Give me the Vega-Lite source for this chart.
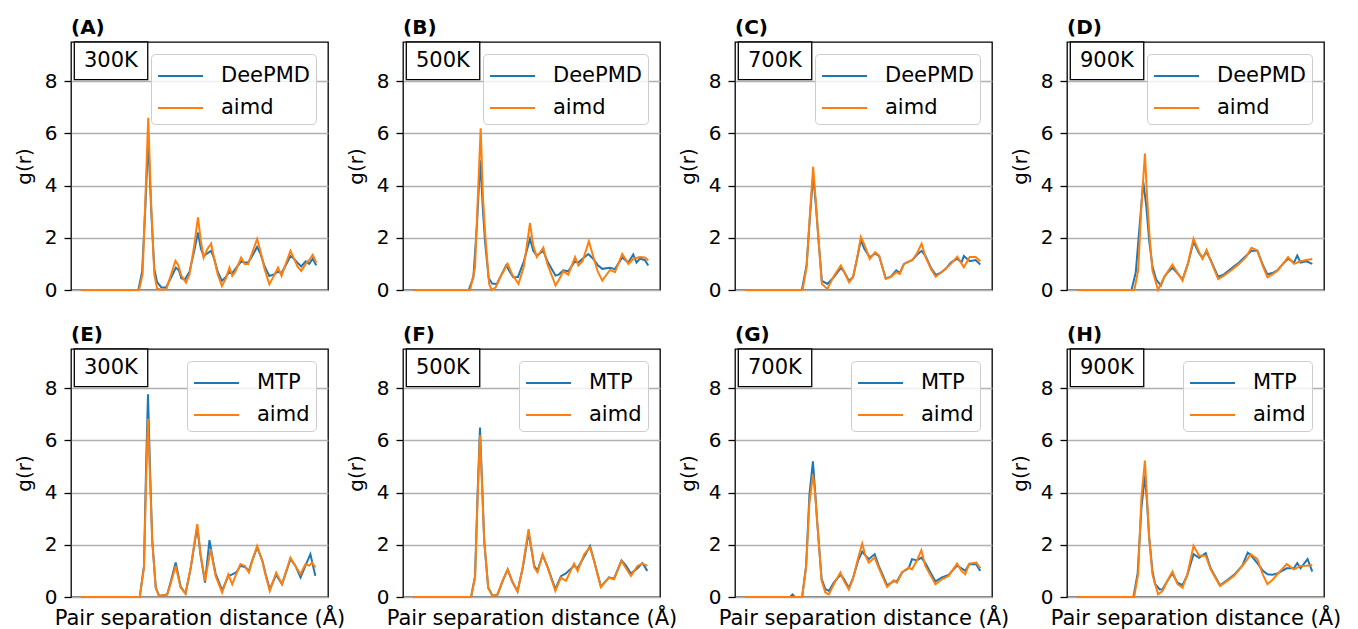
{
"$schema": "https://vega.github.io/schema/vega-lite/v6.json",
"padding": {"left": 13, "top": 17, "right": 5, "bottom": 0},
"background": "white",
"config": {
  "font": "DejaVu Sans",
  "view": {"stroke": "black", "strokeWidth": 1.3},
  "title": {"anchor": "start", "frame": "group", "fontSize": 20, "fontWeight": "bold", "offset": 3, "color": "black"},
  "axisY": {"grid": true, "gridColor": "#b0b0b0", "gridWidth": 1.3, "tickColor": "black", "tickSize": 7, "tickWidth": 1.3, "labelFontSize": 20, "labelColor": "black", "labelPadding": 7, "titleFontSize": 20, "titleFontWeight": "normal", "titleColor": "black", "titlePadding": 10, "domain": false},
  "axisX": {"labels": false, "ticks": false, "domain": false, "grid": false, "titleFontSize": 21, "titleFontWeight": "normal", "titleColor": "black", "titlePadding": 10},
  "legend": {"title": null, "orient": "top-right", "offset": 12, "padding": 6, "strokeColor": "#cccccc", "fillColor": "rgba(255,255,255,0.8)", "cornerRadius": 4, "symbolType": "M-1,0H2", "symbolSize": 900, "symbolStrokeWidth": 2, "labelFontSize": 21, "labelOffset": 32, "rowPadding": 6, "labelColor": "black"}
},
"datasets": {
"panels": [
{"p":"A","temp":"300K"},{"p":"B","temp":"500K"},{"p":"C","temp":"700K"},{"p":"D","temp":"900K"},
{"p":"E","temp":"300K"},{"p":"F","temp":"500K"},{"p":"G","temp":"700K"},{"p":"H","temp":"900K"}
],
"gr": [
{"p":"A","s":"aimd","r":0,"g":0},{"p":"A","s":"aimd","r":2.45,"g":0},{"p":"A","s":"aimd","r":2.6,"g":0.6},{"p":"A","s":"aimd","r":2.72,"g":3.5},{"p":"A","s":"aimd","r":2.84,"g":6.6},{"p":"A","s":"aimd","r":2.97,"g":3.2},{"p":"A","s":"aimd","r":3.1,"g":0.6},{"p":"A","s":"aimd","r":3.22,"g":0.05},{"p":"A","s":"aimd","r":3.45,"g":0},{"p":"A","s":"aimd","r":3.62,"g":0.05},{"p":"A","s":"aimd","r":3.8,"g":0.55},{"p":"A","s":"aimd","r":4.0,"g":1.12},{"p":"A","s":"aimd","r":4.12,"g":0.95},{"p":"A","s":"aimd","r":4.25,"g":0.55},{"p":"A","s":"aimd","r":4.45,"g":0.28},{"p":"A","s":"aimd","r":4.6,"g":0.6},{"p":"A","s":"aimd","r":4.8,"g":1.7},{"p":"A","s":"aimd","r":4.96,"g":2.78},{"p":"A","s":"aimd","r":5.08,"g":1.9},{"p":"A","s":"aimd","r":5.2,"g":1.24},{"p":"A","s":"aimd","r":5.35,"g":1.55},{"p":"A","s":"aimd","r":5.52,"g":1.78},{"p":"A","s":"aimd","r":5.65,"g":1.2},{"p":"A","s":"aimd","r":5.8,"g":0.6},{"p":"A","s":"aimd","r":5.98,"g":0.15},{"p":"A","s":"aimd","r":6.15,"g":0.45},{"p":"A","s":"aimd","r":6.3,"g":0.86},{"p":"A","s":"aimd","r":6.42,"g":0.54},{"p":"A","s":"aimd","r":6.55,"g":0.7},{"p":"A","s":"aimd","r":6.8,"g":1.24},{"p":"A","s":"aimd","r":6.95,"g":1.0},{"p":"A","s":"aimd","r":7.1,"g":1.0},{"p":"A","s":"aimd","r":7.3,"g":1.5},{"p":"A","s":"aimd","r":7.48,"g":1.95},{"p":"A","s":"aimd","r":7.62,"g":1.5},{"p":"A","s":"aimd","r":7.8,"g":0.8},{"p":"A","s":"aimd","r":8.0,"g":0.22},{"p":"A","s":"aimd","r":8.2,"g":0.55},{"p":"A","s":"aimd","r":8.37,"g":0.86},{"p":"A","s":"aimd","r":8.52,"g":0.54},{"p":"A","s":"aimd","r":8.7,"g":1.0},{"p":"A","s":"aimd","r":8.9,"g":1.5},{"p":"A","s":"aimd","r":9.05,"g":1.2},{"p":"A","s":"aimd","r":9.2,"g":0.9},{"p":"A","s":"aimd","r":9.36,"g":0.73},{"p":"A","s":"aimd","r":9.55,"g":1.0},{"p":"A","s":"aimd","r":9.7,"g":1.15},{"p":"A","s":"aimd","r":9.85,"g":1.35},{"p":"A","s":"aimd","r":10,"g":1.05},
{"p":"A","s":"DeePMD","r":0,"g":0},{"p":"A","s":"DeePMD","r":2.42,"g":0},{"p":"A","s":"DeePMD","r":2.58,"g":0.7},{"p":"A","s":"DeePMD","r":2.72,"g":3.2},{"p":"A","s":"DeePMD","r":2.84,"g":5.8},{"p":"A","s":"DeePMD","r":2.97,"g":3.0},{"p":"A","s":"DeePMD","r":3.1,"g":0.8},{"p":"A","s":"DeePMD","r":3.22,"g":0.3},{"p":"A","s":"DeePMD","r":3.4,"g":0.1},{"p":"A","s":"DeePMD","r":3.6,"g":0.1},{"p":"A","s":"DeePMD","r":3.8,"g":0.45},{"p":"A","s":"DeePMD","r":4.02,"g":0.86},{"p":"A","s":"DeePMD","r":4.15,"g":0.75},{"p":"A","s":"DeePMD","r":4.25,"g":0.45},{"p":"A","s":"DeePMD","r":4.4,"g":0.4},{"p":"A","s":"DeePMD","r":4.6,"g":0.7},{"p":"A","s":"DeePMD","r":4.8,"g":1.5},{"p":"A","s":"DeePMD","r":4.96,"g":2.2},{"p":"A","s":"DeePMD","r":5.08,"g":1.6},{"p":"A","s":"DeePMD","r":5.2,"g":1.3},{"p":"A","s":"DeePMD","r":5.35,"g":1.4},{"p":"A","s":"DeePMD","r":5.52,"g":1.5},{"p":"A","s":"DeePMD","r":5.65,"g":1.2},{"p":"A","s":"DeePMD","r":5.8,"g":0.7},{"p":"A","s":"DeePMD","r":5.98,"g":0.35},{"p":"A","s":"DeePMD","r":6.15,"g":0.5},{"p":"A","s":"DeePMD","r":6.3,"g":0.7},{"p":"A","s":"DeePMD","r":6.42,"g":0.65},{"p":"A","s":"DeePMD","r":6.55,"g":0.8},{"p":"A","s":"DeePMD","r":6.8,"g":1.1},{"p":"A","s":"DeePMD","r":6.95,"g":1.05},{"p":"A","s":"DeePMD","r":7.1,"g":1.05},{"p":"A","s":"DeePMD","r":7.3,"g":1.35},{"p":"A","s":"DeePMD","r":7.48,"g":1.65},{"p":"A","s":"DeePMD","r":7.62,"g":1.4},{"p":"A","s":"DeePMD","r":7.8,"g":0.9},{"p":"A","s":"DeePMD","r":8.0,"g":0.54},{"p":"A","s":"DeePMD","r":8.2,"g":0.6},{"p":"A","s":"DeePMD","r":8.37,"g":0.7},{"p":"A","s":"DeePMD","r":8.52,"g":0.65},{"p":"A","s":"DeePMD","r":8.7,"g":0.95},{"p":"A","s":"DeePMD","r":8.9,"g":1.3},{"p":"A","s":"DeePMD","r":9.05,"g":1.2},{"p":"A","s":"DeePMD","r":9.2,"g":1.05},{"p":"A","s":"DeePMD","r":9.36,"g":0.9},{"p":"A","s":"DeePMD","r":9.55,"g":1.1},{"p":"A","s":"DeePMD","r":9.7,"g":1.0},{"p":"A","s":"DeePMD","r":9.85,"g":1.2},{"p":"A","s":"DeePMD","r":10,"g":0.95},
{"p":"B","s":"aimd","r":0,"g":0},{"p":"B","s":"aimd","r":2.41,"g":0},{"p":"B","s":"aimd","r":2.62,"g":0.87},{"p":"B","s":"aimd","r":2.75,"g":3.8},{"p":"B","s":"aimd","r":2.86,"g":6.19},{"p":"B","s":"aimd","r":2.96,"g":3.5},{"p":"B","s":"aimd","r":3.05,"g":2.17},{"p":"B","s":"aimd","r":3.22,"g":0.23},{"p":"B","s":"aimd","r":3.33,"g":0},{"p":"B","s":"aimd","r":3.5,"g":0.1},{"p":"B","s":"aimd","r":3.69,"g":0.49},{"p":"B","s":"aimd","r":4.01,"g":1.0},{"p":"B","s":"aimd","r":4.2,"g":0.6},{"p":"B","s":"aimd","r":4.47,"g":0.23},{"p":"B","s":"aimd","r":4.7,"g":0.9},{"p":"B","s":"aimd","r":4.96,"g":2.56},{"p":"B","s":"aimd","r":5.1,"g":1.7},{"p":"B","s":"aimd","r":5.25,"g":1.26},{"p":"B","s":"aimd","r":5.53,"g":1.62},{"p":"B","s":"aimd","r":5.7,"g":1.0},{"p":"B","s":"aimd","r":6.05,"g":0.17},{"p":"B","s":"aimd","r":6.2,"g":0.4},{"p":"B","s":"aimd","r":6.38,"g":0.72},{"p":"B","s":"aimd","r":6.59,"g":0.59},{"p":"B","s":"aimd","r":6.88,"g":1.26},{"p":"B","s":"aimd","r":7.02,"g":0.94},{"p":"B","s":"aimd","r":7.2,"g":1.1},{"p":"B","s":"aimd","r":7.47,"g":1.87},{"p":"B","s":"aimd","r":7.65,"g":1.3},{"p":"B","s":"aimd","r":7.85,"g":0.7},{"p":"B","s":"aimd","r":8.04,"g":0.36},{"p":"B","s":"aimd","r":8.37,"g":0.77},{"p":"B","s":"aimd","r":8.58,"g":0.68},{"p":"B","s":"aimd","r":8.89,"g":1.38},{"p":"B","s":"aimd","r":9.15,"g":1.0},{"p":"B","s":"aimd","r":9.36,"g":1.19},{"p":"B","s":"aimd","r":9.64,"g":1.26},{"p":"B","s":"aimd","r":9.85,"g":1.25},{"p":"B","s":"aimd","r":10,"g":1.13},
{"p":"B","s":"DeePMD","r":0,"g":0},{"p":"B","s":"DeePMD","r":2.35,"g":0},{"p":"B","s":"DeePMD","r":2.55,"g":0.49},{"p":"B","s":"DeePMD","r":2.7,"g":2.5},{"p":"B","s":"DeePMD","r":2.84,"g":4.97},{"p":"B","s":"DeePMD","r":2.96,"g":3.0},{"p":"B","s":"DeePMD","r":3.05,"g":1.8},{"p":"B","s":"DeePMD","r":3.2,"g":0.45},{"p":"B","s":"DeePMD","r":3.35,"g":0.25},{"p":"B","s":"DeePMD","r":3.55,"g":0.23},{"p":"B","s":"DeePMD","r":3.75,"g":0.6},{"p":"B","s":"DeePMD","r":3.95,"g":0.95},{"p":"B","s":"DeePMD","r":4.1,"g":0.7},{"p":"B","s":"DeePMD","r":4.25,"g":0.49},{"p":"B","s":"DeePMD","r":4.45,"g":0.5},{"p":"B","s":"DeePMD","r":4.7,"g":1.1},{"p":"B","s":"DeePMD","r":4.96,"g":1.96},{"p":"B","s":"DeePMD","r":5.1,"g":1.5},{"p":"B","s":"DeePMD","r":5.25,"g":1.32},{"p":"B","s":"DeePMD","r":5.53,"g":1.5},{"p":"B","s":"DeePMD","r":5.7,"g":1.1},{"p":"B","s":"DeePMD","r":6.05,"g":0.55},{"p":"B","s":"DeePMD","r":6.2,"g":0.6},{"p":"B","s":"DeePMD","r":6.38,"g":0.75},{"p":"B","s":"DeePMD","r":6.59,"g":0.72},{"p":"B","s":"DeePMD","r":6.88,"g":1.1},{"p":"B","s":"DeePMD","r":7.02,"g":1.05},{"p":"B","s":"DeePMD","r":7.2,"g":1.2},{"p":"B","s":"DeePMD","r":7.45,"g":1.38},{"p":"B","s":"DeePMD","r":7.65,"g":1.2},{"p":"B","s":"DeePMD","r":7.85,"g":0.95},{"p":"B","s":"DeePMD","r":8.04,"g":0.81},{"p":"B","s":"DeePMD","r":8.37,"g":0.85},{"p":"B","s":"DeePMD","r":8.58,"g":0.8},{"p":"B","s":"DeePMD","r":8.89,"g":1.25},{"p":"B","s":"DeePMD","r":9.15,"g":1.05},{"p":"B","s":"DeePMD","r":9.36,"g":1.36},{"p":"B","s":"DeePMD","r":9.5,"g":1.05},{"p":"B","s":"DeePMD","r":9.64,"g":1.2},{"p":"B","s":"DeePMD","r":9.85,"g":1.15},{"p":"B","s":"DeePMD","r":10,"g":0.94},
{"p":"C","s":"aimd","r":0,"g":0},{"p":"C","s":"aimd","r":2.43,"g":0},{"p":"C","s":"aimd","r":2.6,"g":0.87},{"p":"C","s":"aimd","r":2.75,"g":3.0},{"p":"C","s":"aimd","r":2.88,"g":4.72},{"p":"C","s":"aimd","r":3.0,"g":3.3},{"p":"C","s":"aimd","r":3.11,"g":1.9},{"p":"C","s":"aimd","r":3.25,"g":0.23},{"p":"C","s":"aimd","r":3.49,"g":0.04},{"p":"C","s":"aimd","r":3.77,"g":0.55},{"p":"C","s":"aimd","r":4.06,"g":0.94},{"p":"C","s":"aimd","r":4.2,"g":0.7},{"p":"C","s":"aimd","r":4.41,"g":0.29},{"p":"C","s":"aimd","r":4.58,"g":0.49},{"p":"C","s":"aimd","r":4.75,"g":1.2},{"p":"C","s":"aimd","r":4.91,"g":2.03},{"p":"C","s":"aimd","r":5.05,"g":1.77},{"p":"C","s":"aimd","r":5.29,"g":1.19},{"p":"C","s":"aimd","r":5.52,"g":1.45},{"p":"C","s":"aimd","r":5.69,"g":1.32},{"p":"C","s":"aimd","r":5.97,"g":0.42},{"p":"C","s":"aimd","r":6.18,"g":0.49},{"p":"C","s":"aimd","r":6.42,"g":0.68},{"p":"C","s":"aimd","r":6.57,"g":0.62},{"p":"C","s":"aimd","r":6.75,"g":1.0},{"p":"C","s":"aimd","r":7.11,"g":1.15},{"p":"C","s":"aimd","r":7.3,"g":1.4},{"p":"C","s":"aimd","r":7.5,"g":1.77},{"p":"C","s":"aimd","r":7.67,"g":1.26},{"p":"C","s":"aimd","r":7.9,"g":0.8},{"p":"C","s":"aimd","r":8.1,"g":0.51},{"p":"C","s":"aimd","r":8.3,"g":0.65},{"p":"C","s":"aimd","r":8.52,"g":0.81},{"p":"C","s":"aimd","r":8.75,"g":1.0},{"p":"C","s":"aimd","r":9.02,"g":1.28},{"p":"C","s":"aimd","r":9.3,"g":0.87},{"p":"C","s":"aimd","r":9.55,"g":1.26},{"p":"C","s":"aimd","r":9.8,"g":1.26},{"p":"C","s":"aimd","r":10,"g":1.1},
{"p":"C","s":"DeePMD","r":0,"g":0},{"p":"C","s":"DeePMD","r":2.4,"g":0},{"p":"C","s":"DeePMD","r":2.6,"g":0.95},{"p":"C","s":"DeePMD","r":2.75,"g":2.9},{"p":"C","s":"DeePMD","r":2.88,"g":4.4},{"p":"C","s":"DeePMD","r":3.0,"g":3.2},{"p":"C","s":"DeePMD","r":3.11,"g":1.9},{"p":"C","s":"DeePMD","r":3.25,"g":0.35},{"p":"C","s":"DeePMD","r":3.49,"g":0.23},{"p":"C","s":"DeePMD","r":3.77,"g":0.5},{"p":"C","s":"DeePMD","r":4.06,"g":0.85},{"p":"C","s":"DeePMD","r":4.2,"g":0.7},{"p":"C","s":"DeePMD","r":4.41,"g":0.35},{"p":"C","s":"DeePMD","r":4.58,"g":0.5},{"p":"C","s":"DeePMD","r":4.75,"g":1.2},{"p":"C","s":"DeePMD","r":4.91,"g":1.9},{"p":"C","s":"DeePMD","r":5.05,"g":1.6},{"p":"C","s":"DeePMD","r":5.29,"g":1.25},{"p":"C","s":"DeePMD","r":5.52,"g":1.4},{"p":"C","s":"DeePMD","r":5.69,"g":1.3},{"p":"C","s":"DeePMD","r":5.97,"g":0.45},{"p":"C","s":"DeePMD","r":6.18,"g":0.5},{"p":"C","s":"DeePMD","r":6.42,"g":0.75},{"p":"C","s":"DeePMD","r":6.57,"g":0.65},{"p":"C","s":"DeePMD","r":6.75,"g":1.0},{"p":"C","s":"DeePMD","r":7.11,"g":1.15},{"p":"C","s":"DeePMD","r":7.3,"g":1.35},{"p":"C","s":"DeePMD","r":7.5,"g":1.5},{"p":"C","s":"DeePMD","r":7.67,"g":1.3},{"p":"C","s":"DeePMD","r":7.9,"g":0.85},{"p":"C","s":"DeePMD","r":8.1,"g":0.58},{"p":"C","s":"DeePMD","r":8.3,"g":0.65},{"p":"C","s":"DeePMD","r":8.52,"g":0.8},{"p":"C","s":"DeePMD","r":8.75,"g":1.05},{"p":"C","s":"DeePMD","r":9.02,"g":1.2},{"p":"C","s":"DeePMD","r":9.2,"g":1.05},{"p":"C","s":"DeePMD","r":9.3,"g":1.3},{"p":"C","s":"DeePMD","r":9.55,"g":1.1},{"p":"C","s":"DeePMD","r":9.8,"g":1.15},{"p":"C","s":"DeePMD","r":10,"g":0.98},
{"p":"D","s":"aimd","r":0,"g":0},{"p":"D","s":"aimd","r":2.42,"g":0},{"p":"D","s":"aimd","r":2.58,"g":0.74},{"p":"D","s":"aimd","r":2.72,"g":3.2},{"p":"D","s":"aimd","r":2.87,"g":5.23},{"p":"D","s":"aimd","r":2.96,"g":3.6},{"p":"D","s":"aimd","r":3.05,"g":2.28},{"p":"D","s":"aimd","r":3.19,"g":0.74},{"p":"D","s":"aimd","r":3.43,"g":0},{"p":"D","s":"aimd","r":3.69,"g":0.49},{"p":"D","s":"aimd","r":4.04,"g":0.97},{"p":"D","s":"aimd","r":4.2,"g":0.75},{"p":"D","s":"aimd","r":4.47,"g":0.36},{"p":"D","s":"aimd","r":4.7,"g":1.0},{"p":"D","s":"aimd","r":4.94,"g":1.96},{"p":"D","s":"aimd","r":5.18,"g":1.45},{"p":"D","s":"aimd","r":5.32,"g":1.19},{"p":"D","s":"aimd","r":5.5,"g":1.54},{"p":"D","s":"aimd","r":5.67,"g":1.13},{"p":"D","s":"aimd","r":5.99,"g":0.42},{"p":"D","s":"aimd","r":6.24,"g":0.55},{"p":"D","s":"aimd","r":6.52,"g":0.74},{"p":"D","s":"aimd","r":6.88,"g":1.0},{"p":"D","s":"aimd","r":7.17,"g":1.26},{"p":"D","s":"aimd","r":7.41,"g":1.62},{"p":"D","s":"aimd","r":7.66,"g":1.51},{"p":"D","s":"aimd","r":7.9,"g":0.9},{"p":"D","s":"aimd","r":8.09,"g":0.49},{"p":"D","s":"aimd","r":8.3,"g":0.6},{"p":"D","s":"aimd","r":8.51,"g":0.74},{"p":"D","s":"aimd","r":8.75,"g":1.0},{"p":"D","s":"aimd","r":8.97,"g":1.26},{"p":"D","s":"aimd","r":9.22,"g":1.0},{"p":"D","s":"aimd","r":9.5,"g":1.1},{"p":"D","s":"aimd","r":9.75,"g":1.15},{"p":"D","s":"aimd","r":10,"g":1.19},
{"p":"D","s":"DeePMD","r":0,"g":0},{"p":"D","s":"DeePMD","r":2.3,"g":0},{"p":"D","s":"DeePMD","r":2.48,"g":0.68},{"p":"D","s":"DeePMD","r":2.62,"g":2.2},{"p":"D","s":"DeePMD","r":2.8,"g":4.14},{"p":"D","s":"DeePMD","r":2.93,"g":3.2},{"p":"D","s":"DeePMD","r":3.05,"g":1.9},{"p":"D","s":"DeePMD","r":3.19,"g":0.9},{"p":"D","s":"DeePMD","r":3.35,"g":0.4},{"p":"D","s":"DeePMD","r":3.55,"g":0.17},{"p":"D","s":"DeePMD","r":3.69,"g":0.49},{"p":"D","s":"DeePMD","r":3.85,"g":0.68},{"p":"D","s":"DeePMD","r":4.04,"g":0.85},{"p":"D","s":"DeePMD","r":4.2,"g":0.7},{"p":"D","s":"DeePMD","r":4.47,"g":0.4},{"p":"D","s":"DeePMD","r":4.7,"g":1.0},{"p":"D","s":"DeePMD","r":4.94,"g":1.85},{"p":"D","s":"DeePMD","r":5.18,"g":1.4},{"p":"D","s":"DeePMD","r":5.32,"g":1.25},{"p":"D","s":"DeePMD","r":5.5,"g":1.45},{"p":"D","s":"DeePMD","r":5.67,"g":1.15},{"p":"D","s":"DeePMD","r":5.99,"g":0.5},{"p":"D","s":"DeePMD","r":6.24,"g":0.6},{"p":"D","s":"DeePMD","r":6.52,"g":0.8},{"p":"D","s":"DeePMD","r":6.88,"g":1.05},{"p":"D","s":"DeePMD","r":7.17,"g":1.3},{"p":"D","s":"DeePMD","r":7.41,"g":1.5},{"p":"D","s":"DeePMD","r":7.66,"g":1.5},{"p":"D","s":"DeePMD","r":7.9,"g":0.95},{"p":"D","s":"DeePMD","r":8.09,"g":0.6},{"p":"D","s":"DeePMD","r":8.3,"g":0.65},{"p":"D","s":"DeePMD","r":8.51,"g":0.75},{"p":"D","s":"DeePMD","r":8.75,"g":1.0},{"p":"D","s":"DeePMD","r":8.97,"g":1.2},{"p":"D","s":"DeePMD","r":9.22,"g":1.05},{"p":"D","s":"DeePMD","r":9.36,"g":1.32},{"p":"D","s":"DeePMD","r":9.5,"g":1.05},{"p":"D","s":"DeePMD","r":9.75,"g":1.1},{"p":"D","s":"DeePMD","r":10,"g":1.0},
{"p":"E","s":"aimd","r":0,"g":0},{"p":"E","s":"aimd","r":2.48,"g":0},{"p":"E","s":"aimd","r":2.66,"g":1.13},{"p":"E","s":"aimd","r":2.75,"g":4.5},{"p":"E","s":"aimd","r":2.83,"g":6.83},{"p":"E","s":"aimd","r":2.92,"g":4.5},{"p":"E","s":"aimd","r":3.01,"g":2.15},{"p":"E","s":"aimd","r":3.16,"g":0.36},{"p":"E","s":"aimd","r":3.3,"g":0.04},{"p":"E","s":"aimd","r":3.65,"g":0.1},{"p":"E","s":"aimd","r":3.79,"g":0.49},{"p":"E","s":"aimd","r":4.01,"g":1.19},{"p":"E","s":"aimd","r":4.22,"g":0.36},{"p":"E","s":"aimd","r":4.43,"g":0.13},{"p":"E","s":"aimd","r":4.65,"g":1.13},{"p":"E","s":"aimd","r":4.93,"g":2.79},{"p":"E","s":"aimd","r":5.07,"g":1.64},{"p":"E","s":"aimd","r":5.26,"g":0.62},{"p":"E","s":"aimd","r":5.5,"g":1.83},{"p":"E","s":"aimd","r":5.71,"g":0.81},{"p":"E","s":"aimd","r":5.99,"g":0.17},{"p":"E","s":"aimd","r":6.25,"g":0.87},{"p":"E","s":"aimd","r":6.42,"g":0.49},{"p":"E","s":"aimd","r":6.6,"g":0.9},{"p":"E","s":"aimd","r":6.77,"g":1.26},{"p":"E","s":"aimd","r":6.96,"g":1.19},{"p":"E","s":"aimd","r":7.13,"g":0.94},{"p":"E","s":"aimd","r":7.27,"g":1.38},{"p":"E","s":"aimd","r":7.48,"g":1.96},{"p":"E","s":"aimd","r":7.7,"g":1.38},{"p":"E","s":"aimd","r":7.85,"g":0.8},{"p":"E","s":"aimd","r":8.02,"g":0.23},{"p":"E","s":"aimd","r":8.29,"g":0.94},{"p":"E","s":"aimd","r":8.54,"g":0.49},{"p":"E","s":"aimd","r":8.9,"g":1.51},{"p":"E","s":"aimd","r":9.11,"g":1.19},{"p":"E","s":"aimd","r":9.33,"g":0.87},{"p":"E","s":"aimd","r":9.54,"g":1.26},{"p":"E","s":"aimd","r":9.7,"g":1.2},{"p":"E","s":"aimd","r":9.82,"g":1.32},{"p":"E","s":"aimd","r":9.96,"g":1.13},
{"p":"E","s":"MTP","r":0,"g":0},{"p":"E","s":"MTP","r":2.48,"g":0},{"p":"E","s":"MTP","r":2.66,"g":1.2},{"p":"E","s":"MTP","r":2.75,"g":5.0},{"p":"E","s":"MTP","r":2.83,"g":7.77},{"p":"E","s":"MTP","r":2.92,"g":4.8},{"p":"E","s":"MTP","r":3.01,"g":2.2},{"p":"E","s":"MTP","r":3.16,"g":0.36},{"p":"E","s":"MTP","r":3.3,"g":0.04},{"p":"E","s":"MTP","r":3.65,"g":0.1},{"p":"E","s":"MTP","r":3.79,"g":0.55},{"p":"E","s":"MTP","r":4.01,"g":1.32},{"p":"E","s":"MTP","r":4.22,"g":0.4},{"p":"E","s":"MTP","r":4.43,"g":0.13},{"p":"E","s":"MTP","r":4.65,"g":1.1},{"p":"E","s":"MTP","r":4.93,"g":2.7},{"p":"E","s":"MTP","r":5.07,"g":1.6},{"p":"E","s":"MTP","r":5.26,"g":0.55},{"p":"E","s":"MTP","r":5.45,"g":2.18},{"p":"E","s":"MTP","r":5.6,"g":1.4},{"p":"E","s":"MTP","r":5.71,"g":0.9},{"p":"E","s":"MTP","r":5.99,"g":0.25},{"p":"E","s":"MTP","r":6.25,"g":0.8},{"p":"E","s":"MTP","r":6.42,"g":0.87},{"p":"E","s":"MTP","r":6.6,"g":0.95},{"p":"E","s":"MTP","r":6.77,"g":1.2},{"p":"E","s":"MTP","r":6.96,"g":1.15},{"p":"E","s":"MTP","r":7.13,"g":1.0},{"p":"E","s":"MTP","r":7.27,"g":1.4},{"p":"E","s":"MTP","r":7.48,"g":1.9},{"p":"E","s":"MTP","r":7.7,"g":1.4},{"p":"E","s":"MTP","r":7.85,"g":0.85},{"p":"E","s":"MTP","r":8.02,"g":0.3},{"p":"E","s":"MTP","r":8.29,"g":0.85},{"p":"E","s":"MTP","r":8.54,"g":0.49},{"p":"E","s":"MTP","r":8.9,"g":1.45},{"p":"E","s":"MTP","r":9.11,"g":1.2},{"p":"E","s":"MTP","r":9.33,"g":0.75},{"p":"E","s":"MTP","r":9.54,"g":1.2},{"p":"E","s":"MTP","r":9.75,"g":1.64},{"p":"E","s":"MTP","r":9.96,"g":0.81},
{"p":"F","s":"aimd","r":0,"g":0},{"p":"F","s":"aimd","r":2.45,"g":0},{"p":"F","s":"aimd","r":2.62,"g":0.74},{"p":"F","s":"aimd","r":2.73,"g":3.8},{"p":"F","s":"aimd","r":2.83,"g":6.19},{"p":"F","s":"aimd","r":2.93,"g":4.0},{"p":"F","s":"aimd","r":3.01,"g":2.15},{"p":"F","s":"aimd","r":3.18,"g":0.36},{"p":"F","s":"aimd","r":3.37,"g":0.04},{"p":"F","s":"aimd","r":3.58,"g":0.1},{"p":"F","s":"aimd","r":3.79,"g":0.62},{"p":"F","s":"aimd","r":4.01,"g":1.06},{"p":"F","s":"aimd","r":4.2,"g":0.6},{"p":"F","s":"aimd","r":4.43,"g":0.2},{"p":"F","s":"aimd","r":4.65,"g":1.13},{"p":"F","s":"aimd","r":4.9,"g":2.6},{"p":"F","s":"aimd","r":5.14,"g":1.13},{"p":"F","s":"aimd","r":5.28,"g":0.94},{"p":"F","s":"aimd","r":5.5,"g":1.64},{"p":"F","s":"aimd","r":5.71,"g":1.13},{"p":"F","s":"aimd","r":6.04,"g":0.23},{"p":"F","s":"aimd","r":6.28,"g":0.74},{"p":"F","s":"aimd","r":6.49,"g":0.62},{"p":"F","s":"aimd","r":6.84,"g":1.28},{"p":"F","s":"aimd","r":6.99,"g":1.0},{"p":"F","s":"aimd","r":7.27,"g":1.64},{"p":"F","s":"aimd","r":7.52,"g":1.9},{"p":"F","s":"aimd","r":7.69,"g":1.38},{"p":"F","s":"aimd","r":7.98,"g":0.38},{"p":"F","s":"aimd","r":8.33,"g":0.74},{"p":"F","s":"aimd","r":8.54,"g":0.68},{"p":"F","s":"aimd","r":8.86,"g":1.38},{"p":"F","s":"aimd","r":9.05,"g":1.1},{"p":"F","s":"aimd","r":9.26,"g":0.81},{"p":"F","s":"aimd","r":9.54,"g":1.19},{"p":"F","s":"aimd","r":9.75,"g":1.28},{"p":"F","s":"aimd","r":9.96,"g":1.19},
{"p":"F","s":"MTP","r":0,"g":0},{"p":"F","s":"MTP","r":2.45,"g":0},{"p":"F","s":"MTP","r":2.62,"g":0.8},{"p":"F","s":"MTP","r":2.73,"g":4.0},{"p":"F","s":"MTP","r":2.83,"g":6.49},{"p":"F","s":"MTP","r":2.93,"g":4.1},{"p":"F","s":"MTP","r":3.01,"g":2.15},{"p":"F","s":"MTP","r":3.18,"g":0.36},{"p":"F","s":"MTP","r":3.37,"g":0.04},{"p":"F","s":"MTP","r":3.58,"g":0.1},{"p":"F","s":"MTP","r":3.79,"g":0.6},{"p":"F","s":"MTP","r":4.01,"g":1.06},{"p":"F","s":"MTP","r":4.2,"g":0.6},{"p":"F","s":"MTP","r":4.43,"g":0.22},{"p":"F","s":"MTP","r":4.65,"g":1.1},{"p":"F","s":"MTP","r":4.9,"g":2.47},{"p":"F","s":"MTP","r":5.14,"g":1.2},{"p":"F","s":"MTP","r":5.28,"g":1.0},{"p":"F","s":"MTP","r":5.5,"g":1.6},{"p":"F","s":"MTP","r":5.71,"g":1.15},{"p":"F","s":"MTP","r":6.04,"g":0.3},{"p":"F","s":"MTP","r":6.28,"g":0.8},{"p":"F","s":"MTP","r":6.49,"g":0.9},{"p":"F","s":"MTP","r":6.6,"g":1.0},{"p":"F","s":"MTP","r":6.84,"g":1.2},{"p":"F","s":"MTP","r":6.99,"g":1.1},{"p":"F","s":"MTP","r":7.27,"g":1.55},{"p":"F","s":"MTP","r":7.52,"g":1.95},{"p":"F","s":"MTP","r":7.69,"g":1.4},{"p":"F","s":"MTP","r":7.98,"g":0.4},{"p":"F","s":"MTP","r":8.33,"g":0.75},{"p":"F","s":"MTP","r":8.54,"g":0.7},{"p":"F","s":"MTP","r":8.86,"g":1.4},{"p":"F","s":"MTP","r":9.05,"g":1.2},{"p":"F","s":"MTP","r":9.26,"g":0.9},{"p":"F","s":"MTP","r":9.54,"g":1.1},{"p":"F","s":"MTP","r":9.75,"g":1.3},{"p":"F","s":"MTP","r":9.96,"g":1.0},
{"p":"G","s":"aimd","r":0,"g":0},{"p":"G","s":"aimd","r":2.41,"g":0},{"p":"G","s":"aimd","r":2.58,"g":1.13},{"p":"G","s":"aimd","r":2.72,"g":3.6},{"p":"G","s":"aimd","r":2.87,"g":4.69},{"p":"G","s":"aimd","r":2.96,"g":4.0},{"p":"G","s":"aimd","r":3.05,"g":2.92},{"p":"G","s":"aimd","r":3.24,"g":0.62},{"p":"G","s":"aimd","r":3.4,"g":0.17},{"p":"G","s":"aimd","r":3.55,"g":0.1},{"p":"G","s":"aimd","r":3.76,"g":0.49},{"p":"G","s":"aimd","r":4.04,"g":0.94},{"p":"G","s":"aimd","r":4.19,"g":0.62},{"p":"G","s":"aimd","r":4.4,"g":0.29},{"p":"G","s":"aimd","r":4.57,"g":0.68},{"p":"G","s":"aimd","r":4.8,"g":1.5},{"p":"G","s":"aimd","r":4.97,"g":2.05},{"p":"G","s":"aimd","r":5.1,"g":1.6},{"p":"G","s":"aimd","r":5.25,"g":1.32},{"p":"G","s":"aimd","r":5.5,"g":1.51},{"p":"G","s":"aimd","r":5.67,"g":1.13},{"p":"G","s":"aimd","r":6.03,"g":0.38},{"p":"G","s":"aimd","r":6.31,"g":0.64},{"p":"G","s":"aimd","r":6.45,"g":0.55},{"p":"G","s":"aimd","r":6.67,"g":0.94},{"p":"G","s":"aimd","r":6.95,"g":1.13},{"p":"G","s":"aimd","r":7.09,"g":1.06},{"p":"G","s":"aimd","r":7.3,"g":1.4},{"p":"G","s":"aimd","r":7.49,"g":1.79},{"p":"G","s":"aimd","r":7.66,"g":1.19},{"p":"G","s":"aimd","r":7.9,"g":0.8},{"p":"G","s":"aimd","r":8.09,"g":0.49},{"p":"G","s":"aimd","r":8.37,"g":0.68},{"p":"G","s":"aimd","r":8.65,"g":0.81},{"p":"G","s":"aimd","r":9.01,"g":1.28},{"p":"G","s":"aimd","r":9.2,"g":1.0},{"p":"G","s":"aimd","r":9.36,"g":0.87},{"p":"G","s":"aimd","r":9.53,"g":1.28},{"p":"G","s":"aimd","r":9.83,"g":1.32},{"p":"G","s":"aimd","r":10,"g":1.1},
{"p":"G","s":"MTP","r":0,"g":0},{"p":"G","s":"MTP","r":1.9,"g":0},{"p":"G","s":"MTP","r":2.0,"g":0.1},{"p":"G","s":"MTP","r":2.1,"g":0},{"p":"G","s":"MTP","r":2.41,"g":0},{"p":"G","s":"MTP","r":2.58,"g":1.2},{"p":"G","s":"MTP","r":2.72,"g":3.9},{"p":"G","s":"MTP","r":2.87,"g":5.2},{"p":"G","s":"MTP","r":2.96,"g":4.1},{"p":"G","s":"MTP","r":3.05,"g":2.9},{"p":"G","s":"MTP","r":3.24,"g":0.7},{"p":"G","s":"MTP","r":3.4,"g":0.3},{"p":"G","s":"MTP","r":3.55,"g":0.23},{"p":"G","s":"MTP","r":3.76,"g":0.55},{"p":"G","s":"MTP","r":4.04,"g":0.85},{"p":"G","s":"MTP","r":4.19,"g":0.7},{"p":"G","s":"MTP","r":4.4,"g":0.35},{"p":"G","s":"MTP","r":4.57,"g":0.7},{"p":"G","s":"MTP","r":4.8,"g":1.4},{"p":"G","s":"MTP","r":4.97,"g":1.74},{"p":"G","s":"MTP","r":5.1,"g":1.6},{"p":"G","s":"MTP","r":5.25,"g":1.45},{"p":"G","s":"MTP","r":5.5,"g":1.64},{"p":"G","s":"MTP","r":5.67,"g":1.2},{"p":"G","s":"MTP","r":6.03,"g":0.45},{"p":"G","s":"MTP","r":6.31,"g":0.6},{"p":"G","s":"MTP","r":6.45,"g":0.6},{"p":"G","s":"MTP","r":6.67,"g":0.95},{"p":"G","s":"MTP","r":6.95,"g":1.1},{"p":"G","s":"MTP","r":7.09,"g":1.45},{"p":"G","s":"MTP","r":7.3,"g":1.4},{"p":"G","s":"MTP","r":7.49,"g":1.51},{"p":"G","s":"MTP","r":7.66,"g":1.3},{"p":"G","s":"MTP","r":7.9,"g":0.9},{"p":"G","s":"MTP","r":8.09,"g":0.6},{"p":"G","s":"MTP","r":8.37,"g":0.75},{"p":"G","s":"MTP","r":8.65,"g":0.85},{"p":"G","s":"MTP","r":9.01,"g":1.2},{"p":"G","s":"MTP","r":9.2,"g":1.1},{"p":"G","s":"MTP","r":9.36,"g":1.0},{"p":"G","s":"MTP","r":9.53,"g":1.25},{"p":"G","s":"MTP","r":9.83,"g":1.25},{"p":"G","s":"MTP","r":10,"g":1.0},
{"p":"H","s":"aimd","r":0,"g":0},{"p":"H","s":"aimd","r":2.41,"g":0},{"p":"H","s":"aimd","r":2.58,"g":0.87},{"p":"H","s":"aimd","r":2.72,"g":3.8},{"p":"H","s":"aimd","r":2.87,"g":5.23},{"p":"H","s":"aimd","r":2.96,"g":3.8},{"p":"H","s":"aimd","r":3.05,"g":2.28},{"p":"H","s":"aimd","r":3.19,"g":0.87},{"p":"H","s":"aimd","r":3.43,"g":0.1},{"p":"H","s":"aimd","r":3.62,"g":0.23},{"p":"H","s":"aimd","r":3.83,"g":0.62},{"p":"H","s":"aimd","r":4.04,"g":0.97},{"p":"H","s":"aimd","r":4.26,"g":0.49},{"p":"H","s":"aimd","r":4.47,"g":0.36},{"p":"H","s":"aimd","r":4.68,"g":0.87},{"p":"H","s":"aimd","r":4.94,"g":1.96},{"p":"H","s":"aimd","r":5.18,"g":1.58},{"p":"H","s":"aimd","r":5.46,"g":1.58},{"p":"H","s":"aimd","r":5.67,"g":1.06},{"p":"H","s":"aimd","r":6.07,"g":0.42},{"p":"H","s":"aimd","r":6.38,"g":0.62},{"p":"H","s":"aimd","r":6.67,"g":0.81},{"p":"H","s":"aimd","r":7.02,"g":1.19},{"p":"H","s":"aimd","r":7.2,"g":1.4},{"p":"H","s":"aimd","r":7.38,"g":1.64},{"p":"H","s":"aimd","r":7.66,"g":1.45},{"p":"H","s":"aimd","r":7.9,"g":0.85},{"p":"H","s":"aimd","r":8.09,"g":0.49},{"p":"H","s":"aimd","r":8.3,"g":0.65},{"p":"H","s":"aimd","r":8.51,"g":0.87},{"p":"H","s":"aimd","r":8.91,"g":1.26},{"p":"H","s":"aimd","r":9.22,"g":1.06},{"p":"H","s":"aimd","r":9.5,"g":1.19},{"p":"H","s":"aimd","r":9.75,"g":1.2},{"p":"H","s":"aimd","r":10,"g":1.23},
{"p":"H","s":"MTP","r":0,"g":0},{"p":"H","s":"MTP","r":2.38,"g":0},{"p":"H","s":"MTP","r":2.56,"g":0.9},{"p":"H","s":"MTP","r":2.72,"g":3.4},{"p":"H","s":"MTP","r":2.87,"g":4.65},{"p":"H","s":"MTP","r":2.96,"g":3.6},{"p":"H","s":"MTP","r":3.05,"g":2.3},{"p":"H","s":"MTP","r":3.19,"g":1.0},{"p":"H","s":"MTP","r":3.3,"g":0.5},{"p":"H","s":"MTP","r":3.5,"g":0.29},{"p":"H","s":"MTP","r":3.62,"g":0.3},{"p":"H","s":"MTP","r":3.83,"g":0.62},{"p":"H","s":"MTP","r":4.04,"g":0.9},{"p":"H","s":"MTP","r":4.26,"g":0.55},{"p":"H","s":"MTP","r":4.47,"g":0.45},{"p":"H","s":"MTP","r":4.68,"g":0.85},{"p":"H","s":"MTP","r":4.94,"g":1.64},{"p":"H","s":"MTP","r":5.18,"g":1.5},{"p":"H","s":"MTP","r":5.46,"g":1.68},{"p":"H","s":"MTP","r":5.67,"g":1.1},{"p":"H","s":"MTP","r":6.07,"g":0.45},{"p":"H","s":"MTP","r":6.38,"g":0.65},{"p":"H","s":"MTP","r":6.67,"g":0.85},{"p":"H","s":"MTP","r":7.02,"g":1.2},{"p":"H","s":"MTP","r":7.25,"g":1.7},{"p":"H","s":"MTP","r":7.38,"g":1.6},{"p":"H","s":"MTP","r":7.66,"g":1.3},{"p":"H","s":"MTP","r":7.9,"g":1.0},{"p":"H","s":"MTP","r":8.09,"g":0.87},{"p":"H","s":"MTP","r":8.3,"g":0.85},{"p":"H","s":"MTP","r":8.51,"g":0.9},{"p":"H","s":"MTP","r":8.91,"g":1.1},{"p":"H","s":"MTP","r":9.22,"g":1.1},{"p":"H","s":"MTP","r":9.36,"g":1.3},{"p":"H","s":"MTP","r":9.5,"g":1.1},{"p":"H","s":"MTP","r":9.8,"g":1.45},{"p":"H","s":"MTP","r":10,"g":0.97}
]
},
"columns": 4,
"bounds": "flush",
"spacing": {"row": 59, "column": 75},
"resolve": {"scale": {"color": "independent"}, "legend": {"color": "independent"}},
"concat": [
{"title": "(A)", "width": 257, "height": 248, "layer": [
 {"data": {"name": "gr"}, "transform": [{"filter": "datum.p === 'A' && datum.s !== 'aimd'"}], "mark": {"type": "line", "strokeWidth": 2}, "encoding": {"x": {"field": "r", "type": "quantitative", "scale": {"domain": [-0.45, 10.5], "nice": false, "zero": false}, "axis": null}, "y": {"field": "g", "type": "quantitative", "scale": {"domain": [0, 9.5], "nice": false}, "axis": {"title": "g(r)", "values": [0, 2, 4, 6, 8]}}, "color": {"field": "s", "type": "nominal", "scale": {"domain": ["DeePMD", "aimd"], "range": ["#1f77b4", "#ff7f0e"]}}}},
 {"data": {"name": "gr"}, "transform": [{"filter": "datum.p === 'A' && datum.s === 'aimd'"}], "mark": {"type": "line", "strokeWidth": 2}, "encoding": {"x": {"field": "r", "type": "quantitative"}, "y": {"field": "g", "type": "quantitative"}, "color": {"field": "s", "type": "nominal"}}},
 {"data": {"name": "panels"}, "transform": [{"filter": "datum.p === 'A'"}], "mark": {"type": "rect", "fill": "white", "stroke": "black", "strokeWidth": 1.3}, "encoding": {"x": {"datum": -0.31, "type": "quantitative"}, "x2": {"datum": 2.82}, "y": {"datum": 8.06, "type": "quantitative"}, "y2": {"datum": 9.5}}},
 {"data": {"name": "panels"}, "transform": [{"filter": "datum.p === 'A'"}], "mark": {"type": "text", "fontSize": 21, "color": "black", "align": "center", "baseline": "middle"}, "encoding": {"x": {"datum": 1.25, "type": "quantitative"}, "y": {"datum": 8.78, "type": "quantitative"}, "text": {"field": "temp"}}}
]},
{"title": "(B)", "width": 257, "height": 248, "layer": [
 {"data": {"name": "gr"}, "transform": [{"filter": "datum.p === 'B' && datum.s !== 'aimd'"}], "mark": {"type": "line", "strokeWidth": 2}, "encoding": {"x": {"field": "r", "type": "quantitative", "scale": {"domain": [-0.45, 10.5], "nice": false, "zero": false}, "axis": null}, "y": {"field": "g", "type": "quantitative", "scale": {"domain": [0, 9.5], "nice": false}, "axis": {"title": "g(r)", "values": [0, 2, 4, 6, 8]}}, "color": {"field": "s", "type": "nominal", "scale": {"domain": ["DeePMD", "aimd"], "range": ["#1f77b4", "#ff7f0e"]}}}},
 {"data": {"name": "gr"}, "transform": [{"filter": "datum.p === 'B' && datum.s === 'aimd'"}], "mark": {"type": "line", "strokeWidth": 2}, "encoding": {"x": {"field": "r", "type": "quantitative"}, "y": {"field": "g", "type": "quantitative"}, "color": {"field": "s", "type": "nominal"}}},
 {"data": {"name": "panels"}, "transform": [{"filter": "datum.p === 'B'"}], "mark": {"type": "rect", "fill": "white", "stroke": "black", "strokeWidth": 1.3}, "encoding": {"x": {"datum": -0.31, "type": "quantitative"}, "x2": {"datum": 2.82}, "y": {"datum": 8.06, "type": "quantitative"}, "y2": {"datum": 9.5}}},
 {"data": {"name": "panels"}, "transform": [{"filter": "datum.p === 'B'"}], "mark": {"type": "text", "fontSize": 21, "color": "black", "align": "center", "baseline": "middle"}, "encoding": {"x": {"datum": 1.25, "type": "quantitative"}, "y": {"datum": 8.78, "type": "quantitative"}, "text": {"field": "temp"}}}
]},
{"title": "(C)", "width": 257, "height": 248, "layer": [
 {"data": {"name": "gr"}, "transform": [{"filter": "datum.p === 'C' && datum.s !== 'aimd'"}], "mark": {"type": "line", "strokeWidth": 2}, "encoding": {"x": {"field": "r", "type": "quantitative", "scale": {"domain": [-0.45, 10.5], "nice": false, "zero": false}, "axis": null}, "y": {"field": "g", "type": "quantitative", "scale": {"domain": [0, 9.5], "nice": false}, "axis": {"title": "g(r)", "values": [0, 2, 4, 6, 8]}}, "color": {"field": "s", "type": "nominal", "scale": {"domain": ["DeePMD", "aimd"], "range": ["#1f77b4", "#ff7f0e"]}}}},
 {"data": {"name": "gr"}, "transform": [{"filter": "datum.p === 'C' && datum.s === 'aimd'"}], "mark": {"type": "line", "strokeWidth": 2}, "encoding": {"x": {"field": "r", "type": "quantitative"}, "y": {"field": "g", "type": "quantitative"}, "color": {"field": "s", "type": "nominal"}}},
 {"data": {"name": "panels"}, "transform": [{"filter": "datum.p === 'C'"}], "mark": {"type": "rect", "fill": "white", "stroke": "black", "strokeWidth": 1.3}, "encoding": {"x": {"datum": -0.31, "type": "quantitative"}, "x2": {"datum": 2.82}, "y": {"datum": 8.06, "type": "quantitative"}, "y2": {"datum": 9.5}}},
 {"data": {"name": "panels"}, "transform": [{"filter": "datum.p === 'C'"}], "mark": {"type": "text", "fontSize": 21, "color": "black", "align": "center", "baseline": "middle"}, "encoding": {"x": {"datum": 1.25, "type": "quantitative"}, "y": {"datum": 8.78, "type": "quantitative"}, "text": {"field": "temp"}}}
]},
{"title": "(D)", "width": 257, "height": 248, "layer": [
 {"data": {"name": "gr"}, "transform": [{"filter": "datum.p === 'D' && datum.s !== 'aimd'"}], "mark": {"type": "line", "strokeWidth": 2}, "encoding": {"x": {"field": "r", "type": "quantitative", "scale": {"domain": [-0.45, 10.5], "nice": false, "zero": false}, "axis": null}, "y": {"field": "g", "type": "quantitative", "scale": {"domain": [0, 9.5], "nice": false}, "axis": {"title": "g(r)", "values": [0, 2, 4, 6, 8]}}, "color": {"field": "s", "type": "nominal", "scale": {"domain": ["DeePMD", "aimd"], "range": ["#1f77b4", "#ff7f0e"]}}}},
 {"data": {"name": "gr"}, "transform": [{"filter": "datum.p === 'D' && datum.s === 'aimd'"}], "mark": {"type": "line", "strokeWidth": 2}, "encoding": {"x": {"field": "r", "type": "quantitative"}, "y": {"field": "g", "type": "quantitative"}, "color": {"field": "s", "type": "nominal"}}},
 {"data": {"name": "panels"}, "transform": [{"filter": "datum.p === 'D'"}], "mark": {"type": "rect", "fill": "white", "stroke": "black", "strokeWidth": 1.3}, "encoding": {"x": {"datum": -0.31, "type": "quantitative"}, "x2": {"datum": 2.82}, "y": {"datum": 8.06, "type": "quantitative"}, "y2": {"datum": 9.5}}},
 {"data": {"name": "panels"}, "transform": [{"filter": "datum.p === 'D'"}], "mark": {"type": "text", "fontSize": 21, "color": "black", "align": "center", "baseline": "middle"}, "encoding": {"x": {"datum": 1.25, "type": "quantitative"}, "y": {"datum": 8.78, "type": "quantitative"}, "text": {"field": "temp"}}}
]},
{"title": "(E)", "width": 257, "height": 248, "layer": [
 {"data": {"name": "gr"}, "transform": [{"filter": "datum.p === 'E' && datum.s !== 'aimd'"}], "mark": {"type": "line", "strokeWidth": 2}, "encoding": {"x": {"field": "r", "type": "quantitative", "scale": {"domain": [-0.45, 10.5], "nice": false, "zero": false}, "axis": {"title": "Pair separation distance (Å)"}}, "y": {"field": "g", "type": "quantitative", "scale": {"domain": [0, 9.5], "nice": false}, "axis": {"title": "g(r)", "values": [0, 2, 4, 6, 8]}}, "color": {"field": "s", "type": "nominal", "scale": {"domain": ["MTP", "aimd"], "range": ["#1f77b4", "#ff7f0e"]}}}},
 {"data": {"name": "gr"}, "transform": [{"filter": "datum.p === 'E' && datum.s === 'aimd'"}], "mark": {"type": "line", "strokeWidth": 2}, "encoding": {"x": {"field": "r", "type": "quantitative"}, "y": {"field": "g", "type": "quantitative"}, "color": {"field": "s", "type": "nominal"}}},
 {"data": {"name": "panels"}, "transform": [{"filter": "datum.p === 'E'"}], "mark": {"type": "rect", "fill": "white", "stroke": "black", "strokeWidth": 1.3}, "encoding": {"x": {"datum": -0.31, "type": "quantitative"}, "x2": {"datum": 2.82}, "y": {"datum": 8.06, "type": "quantitative"}, "y2": {"datum": 9.5}}},
 {"data": {"name": "panels"}, "transform": [{"filter": "datum.p === 'E'"}], "mark": {"type": "text", "fontSize": 21, "color": "black", "align": "center", "baseline": "middle"}, "encoding": {"x": {"datum": 1.25, "type": "quantitative"}, "y": {"datum": 8.78, "type": "quantitative"}, "text": {"field": "temp"}}}
]},
{"title": "(F)", "width": 257, "height": 248, "layer": [
 {"data": {"name": "gr"}, "transform": [{"filter": "datum.p === 'F' && datum.s !== 'aimd'"}], "mark": {"type": "line", "strokeWidth": 2}, "encoding": {"x": {"field": "r", "type": "quantitative", "scale": {"domain": [-0.45, 10.5], "nice": false, "zero": false}, "axis": {"title": "Pair separation distance (Å)"}}, "y": {"field": "g", "type": "quantitative", "scale": {"domain": [0, 9.5], "nice": false}, "axis": {"title": "g(r)", "values": [0, 2, 4, 6, 8]}}, "color": {"field": "s", "type": "nominal", "scale": {"domain": ["MTP", "aimd"], "range": ["#1f77b4", "#ff7f0e"]}}}},
 {"data": {"name": "gr"}, "transform": [{"filter": "datum.p === 'F' && datum.s === 'aimd'"}], "mark": {"type": "line", "strokeWidth": 2}, "encoding": {"x": {"field": "r", "type": "quantitative"}, "y": {"field": "g", "type": "quantitative"}, "color": {"field": "s", "type": "nominal"}}},
 {"data": {"name": "panels"}, "transform": [{"filter": "datum.p === 'F'"}], "mark": {"type": "rect", "fill": "white", "stroke": "black", "strokeWidth": 1.3}, "encoding": {"x": {"datum": -0.31, "type": "quantitative"}, "x2": {"datum": 2.82}, "y": {"datum": 8.06, "type": "quantitative"}, "y2": {"datum": 9.5}}},
 {"data": {"name": "panels"}, "transform": [{"filter": "datum.p === 'F'"}], "mark": {"type": "text", "fontSize": 21, "color": "black", "align": "center", "baseline": "middle"}, "encoding": {"x": {"datum": 1.25, "type": "quantitative"}, "y": {"datum": 8.78, "type": "quantitative"}, "text": {"field": "temp"}}}
]},
{"title": "(G)", "width": 257, "height": 248, "layer": [
 {"data": {"name": "gr"}, "transform": [{"filter": "datum.p === 'G' && datum.s !== 'aimd'"}], "mark": {"type": "line", "strokeWidth": 2}, "encoding": {"x": {"field": "r", "type": "quantitative", "scale": {"domain": [-0.45, 10.5], "nice": false, "zero": false}, "axis": {"title": "Pair separation distance (Å)"}}, "y": {"field": "g", "type": "quantitative", "scale": {"domain": [0, 9.5], "nice": false}, "axis": {"title": "g(r)", "values": [0, 2, 4, 6, 8]}}, "color": {"field": "s", "type": "nominal", "scale": {"domain": ["MTP", "aimd"], "range": ["#1f77b4", "#ff7f0e"]}}}},
 {"data": {"name": "gr"}, "transform": [{"filter": "datum.p === 'G' && datum.s === 'aimd'"}], "mark": {"type": "line", "strokeWidth": 2}, "encoding": {"x": {"field": "r", "type": "quantitative"}, "y": {"field": "g", "type": "quantitative"}, "color": {"field": "s", "type": "nominal"}}},
 {"data": {"name": "panels"}, "transform": [{"filter": "datum.p === 'G'"}], "mark": {"type": "rect", "fill": "white", "stroke": "black", "strokeWidth": 1.3}, "encoding": {"x": {"datum": -0.31, "type": "quantitative"}, "x2": {"datum": 2.82}, "y": {"datum": 8.06, "type": "quantitative"}, "y2": {"datum": 9.5}}},
 {"data": {"name": "panels"}, "transform": [{"filter": "datum.p === 'G'"}], "mark": {"type": "text", "fontSize": 21, "color": "black", "align": "center", "baseline": "middle"}, "encoding": {"x": {"datum": 1.25, "type": "quantitative"}, "y": {"datum": 8.78, "type": "quantitative"}, "text": {"field": "temp"}}}
]},
{"title": "(H)", "width": 257, "height": 248, "layer": [
 {"data": {"name": "gr"}, "transform": [{"filter": "datum.p === 'H' && datum.s !== 'aimd'"}], "mark": {"type": "line", "strokeWidth": 2}, "encoding": {"x": {"field": "r", "type": "quantitative", "scale": {"domain": [-0.45, 10.5], "nice": false, "zero": false}, "axis": {"title": "Pair separation distance (Å)"}}, "y": {"field": "g", "type": "quantitative", "scale": {"domain": [0, 9.5], "nice": false}, "axis": {"title": "g(r)", "values": [0, 2, 4, 6, 8]}}, "color": {"field": "s", "type": "nominal", "scale": {"domain": ["MTP", "aimd"], "range": ["#1f77b4", "#ff7f0e"]}}}},
 {"data": {"name": "gr"}, "transform": [{"filter": "datum.p === 'H' && datum.s === 'aimd'"}], "mark": {"type": "line", "strokeWidth": 2}, "encoding": {"x": {"field": "r", "type": "quantitative"}, "y": {"field": "g", "type": "quantitative"}, "color": {"field": "s", "type": "nominal"}}},
 {"data": {"name": "panels"}, "transform": [{"filter": "datum.p === 'H'"}], "mark": {"type": "rect", "fill": "white", "stroke": "black", "strokeWidth": 1.3}, "encoding": {"x": {"datum": -0.31, "type": "quantitative"}, "x2": {"datum": 2.82}, "y": {"datum": 8.06, "type": "quantitative"}, "y2": {"datum": 9.5}}},
 {"data": {"name": "panels"}, "transform": [{"filter": "datum.p === 'H'"}], "mark": {"type": "text", "fontSize": 21, "color": "black", "align": "center", "baseline": "middle"}, "encoding": {"x": {"datum": 1.25, "type": "quantitative"}, "y": {"datum": 8.78, "type": "quantitative"}, "text": {"field": "temp"}}}
]}
]
}
